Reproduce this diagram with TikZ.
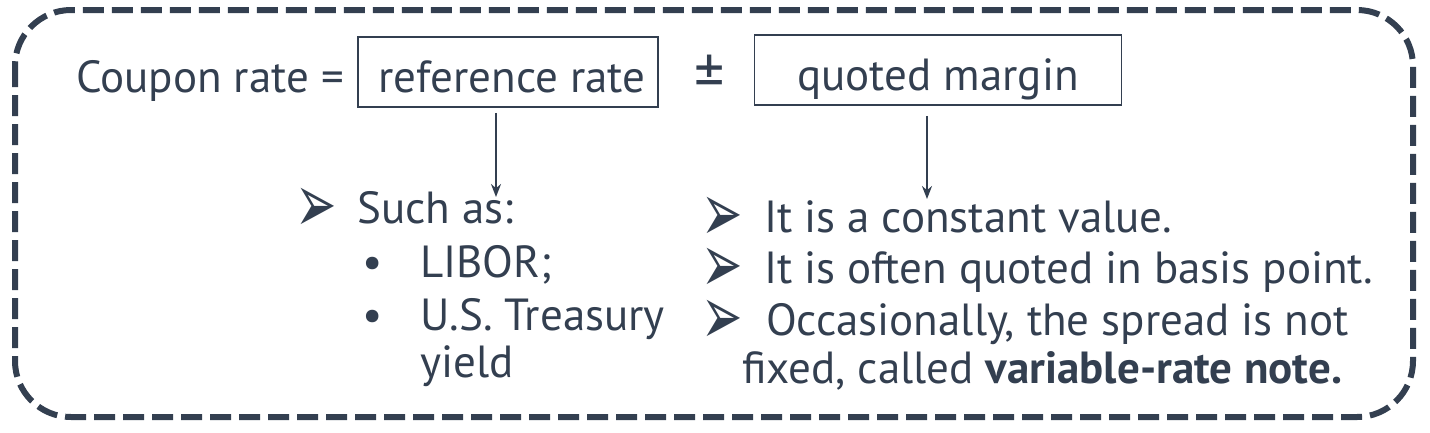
\documentclass[tikz,border=0pt]{standalone}
\usepackage{fontspec}
\setmainfont{PT Sans}
\newfontfamily\symfont{DejaVu Sans}
\usetikzlibrary{arrows.meta}
\definecolor{slate}{HTML}{333F50}
\newcommand{\arrowmark}{\hspace*{-10pt}\smash{\raisebox{-9pt}{\scalebox{1.1}[1.85]{\symfont\char"27A2}}}}

\begin{document}
\begin{tikzpicture}[x=1pt,y=-1pt,
    every node/.style={inner sep=0pt, text=slate},
    bigtext/.style={font=\fontsize{45}{50}\selectfont},
    smalltext/.style={font=\fontsize{45}{50}\selectfont, anchor=base west},
    termbox/.style={draw=slate, line width=1.5pt, minimum height=70pt,
        text height=44pt, text depth=4pt, bigtext},
    pointer/.style={draw=slate, line width=2pt, -{Stealth[length=13pt,width=10pt]}}]
        \useasboundingbox (0,0) rectangle (1430,432);
        \draw[slate, line width=6pt, dash pattern=on 21pt off 8pt, rounded corners=56pt] (15,10) rectangle (1413,417);
        % top line
        \node[bigtext, anchor=base west] (coupon) at (76,92) {Coupon rate =};
        \node[termbox, minimum width=300pt] (ref) at (508,72) {\hspace*{8pt}reference rate};
        \node[font=\fontsize{60}{60}\selectfont, anchor=base] (pm) at (710,95) {±};
        \node[termbox, minimum width=367pt] (margin) at (938,70) {quoted margin};
        % left list
        \node[smalltext] (such) at (305,223) {\makebox[52pt][l]{\arrowmark}Such as:};
        \node[smalltext] (libor) at (362,277) {\makebox[58pt][l]{•}LIBOR;};
        \node[smalltext] (treasury) at (362,330) {\makebox[58pt][l]{•}U.S. Treasury};
        \node[smalltext] (yield) at (420,377) {yield};
        % right list
        \node[smalltext] (const) at (711,232) {\makebox[53pt][l]{\arrowmark}It is a constant value.};
        \node[smalltext] (basis) at (711,283) {\makebox[53pt][l]{\arrowmark}It is often quoted in basis point.};
        \node[smalltext] (occas) at (711,335) {\makebox[55pt][l]{\arrowmark}Occasionally, the spread is not};
        \node[smalltext] (fixed) at (742,383) {fixed, called \textbf{variable-rate note.}};
        % arrows
        \coordinate (refend) at (496,197);
        \coordinate (marginend) at (927,199);
        \draw[pointer] ([yshift=-5pt]ref.south -| refend) -- (refend);
        \draw[pointer] ([yshift=-10pt]margin.south -| marginend) -- (marginend);
      \end{tikzpicture}
\end{document}
